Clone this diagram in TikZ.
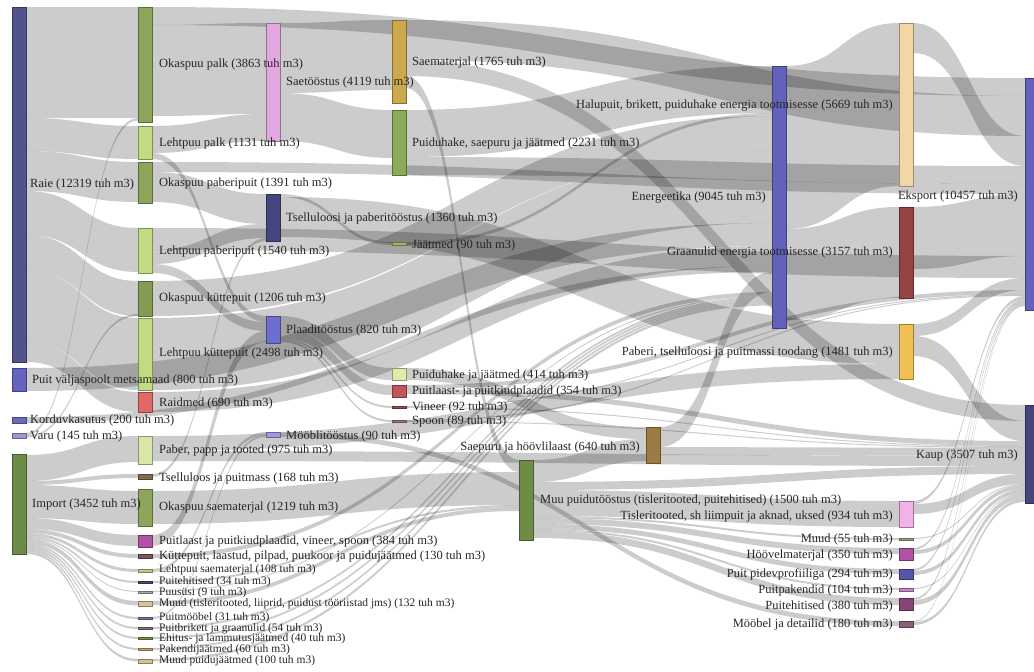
\documentclass[tikz,border=0pt]{standalone}
\usepackage{fontspec}
\setmainfont{Liberation Serif}
\usetikzlibrary{calc}
\pgfdeclarelayer{bg}
\pgfsetlayers{bg,main}
% colours
\definecolor{craie}{HTML}{52528F}
\definecolor{cvalja}{HTML}{6464C0}
\definecolor{ckordu}{HTML}{6A6AC0}
\definecolor{cvaru}{HTML}{9A9AD0}
\definecolor{cimport}{HTML}{6E8C46}
\definecolor{cok}{HTML}{8CA55A}
\definecolor{clh}{HTML}{C2DA82}
\definecolor{cokk}{HTML}{849C52}
\definecolor{craid}{HTML}{E06868}
\definecolor{cpaber}{HTML}{D8E6A8}
\definecolor{ctsell}{HTML}{7E6C4C}
\definecolor{cpl}{HTML}{B352A5}
\definecolor{ckutte}{HTML}{7C5656}
\definecolor{clhsae}{HTML}{B5CE80}
\definecolor{cpeh}{HTML}{604070}
\definecolor{cgray}{HTML}{A8A8A8}
\definecolor{cmuud}{HTML}{D4C494}
\definecolor{cmoob}{HTML}{8A6AA6}
\definecolor{cbrik}{HTML}{8A6A8A}
\definecolor{cehit}{HTML}{7F8F48}
\definecolor{cpak}{HTML}{C4A66A}
\definecolor{csaet}{HTML}{E4A8E0}
\definecolor{ctsp}{HTML}{46467E}
\definecolor{cplaad}{HTML}{6E6ED0}
\definecolor{cmoobl}{HTML}{9C9CD8}
\definecolor{csaemat}{HTML}{CCA94C}
\definecolor{cpuiduh}{HTML}{8DAA5A}
\definecolor{cjaat}{HTML}{A4B466}
\definecolor{cpjaat}{HTML}{E0EAAA}
\definecolor{cplaadid}{HTML}{C4545C}
\definecolor{cvineer}{HTML}{A04848}
\definecolor{cspoon}{HTML}{A87878}
\definecolor{csaepuru}{HTML}{9C7C42}
\definecolor{cenerg}{HTML}{6262BC}
\definecolor{chalu}{HTML}{F2D6A4}
\definecolor{cgraan}{HTML}{944444}
\definecolor{cpaberp}{HTML}{F0C152}
\definecolor{ctisl}{HTML}{F2B2E8}
\definecolor{cmuud55}{HTML}{A0A080}
\definecolor{cpidev}{HTML}{5656A8}
\definecolor{cpakendid}{HTML}{C888C8}
\definecolor{cpeh2}{HTML}{884478}
\definecolor{cmoobel}{HTML}{886078}
\tikzset{
  nd/.style={draw=#1!65!black, fill=#1, line width=0.5pt, inner sep=0pt, outer sep=0pt,
    minimum width=14pt, anchor=north west},
  lbl/.style={font=\fontsize{12.5}{14}\selectfont, inner sep=0pt, text=black!85},
  slbl/.style={lbl, font=\fontsize{11.5}{12}\selectfont},
  flow/.style={fill=black, fill opacity=0.2}
}
\newcommand\mknode[5]{\node[nd=#2, minimum height=#5pt] (#1) at (#3,#4) {};}
\newcommand\band[5]{%
  \fill[flow] let \p1=(#1.north east), \p2=(#3.north west) in
  (\x1,\y1-#2pt) .. controls ({0.5*\x1+0.5*\x2},\y1-#2pt) and ({0.5*\x1+0.5*\x2},\y2-#4pt) .. (\x2,\y2-#4pt)
  -- (\x2,\y2-#4pt-#5pt) .. controls ({0.5*\x1+0.5*\x2},\y2-#4pt-#5pt) and ({0.5*\x1+0.5*\x2},\y1-#2pt-#5pt) .. (\x1,\y1-#2pt-#5pt) -- cycle;}
\begin{document}
\begin{tikzpicture}[x=1pt,y=-1pt]
\useasboundingbox (0,0) rectangle (1034,672);
% ---------- nodes ----------
\mknode{raie}{craie}{12}{7}{355}
\mknode{valja}{cvalja}{12}{368}{23}
\mknode{kordu}{ckordu}{12}{417}{6}
\mknode{varu}{cvaru}{12}{433}{5}
\mknode{import}{cimport}{12}{454}{100}
\mknode{okpalk}{cok}{138}{7}{115}
\mknode{lhpalk}{clh}{138}{126}{33}
\mknode{okpab}{cok}{138}{162}{41}
\mknode{lhpab}{clh}{138}{228}{45}
\mknode{okkut}{cokk}{138}{281}{35}
\mknode{lhkut}{clh}{138}{318}{72}
\mknode{raidmed}{craid}{138}{392}{20}
\mknode{paber}{cpaber}{138}{436}{28}
\mknode{tsell}{ctsell}{138}{474}{5}
\mknode{oksae}{cok}{138}{489}{37}
\mknode{puitlaast}{cpl}{138}{535}{12}
\mknode{kutte}{ckutte}{138}{554}{4}
\mknode{lhsae}{clhsae}{138}{569}{3}
\mknode{puiteh}{cpeh}{138}{581}{2}
\mknode{puusysi}{cgray}{138}{591}{2}
\mknode{muud1}{cmuud}{138}{601}{5}
\mknode{puitmoob}{cmoob}{138}{617}{2.5}
\mknode{brikett}{cbrik}{138}{627}{2.5}
\mknode{ehitus}{cehit}{138}{637}{2.5}
\mknode{pakend}{cpak}{138}{648}{2.5}
\mknode{muudj}{cmuud}{138}{659}{4}
\mknode{saet}{csaet}{266}{23}{118}
\mknode{tsellp}{ctsp}{266}{194}{47}
\mknode{plaad}{cplaad}{266}{316}{27}
\mknode{moobl}{cmoobl}{266}{432}{5}
\mknode{saemat}{csaemat}{392}{20}{83}
\mknode{puiduh}{cpuiduh}{392}{110}{65}
\mknode{jaatmed}{cjaat}{392}{242}{3}
\mknode{puidjaat}{cpjaat}{392}{368}{12}
\mknode{plaadid}{cplaadid}{392}{385}{12}
\mknode{vineer}{cvineer}{392}{406}{2.5}
\mknode{spoon}{cspoon}{392}{420}{2.5}
\mknode{muut}{cimport}{519}{460}{80}
\mknode{saepuru}{csaepuru}{646}{427}{36}
\mknode{energ}{cenerg}{772}{66}{262}
\mknode{halu}{chalu}{899}{23}{163}
\mknode{graan}{cgraan}{899}{207}{91}
\mknode{paberp}{cpaberp}{899}{324}{55}
\mknode{tisl}{ctisl}{899}{501}{26}
\mknode{muud55}{cmuud55}{899}{538}{2.5}
\mknode{hoov}{cpl}{899}{548}{12}
\mknode{pidev}{cpidev}{899}{569}{10}
\mknode{pakendid}{cpakendid}{899}{588}{3}
\mknode{puiteh2}{cpeh2}{899}{598}{12}
\mknode{moobel}{cmoobel}{899}{621}{6}
\mknode{eksport}{cenerg}{1025}{78}{232}
\mknode{kaup}{ctsp}{1025}{405}{98}
% ---------- flows ----------
\begin{pgfonlayer}{bg}
\fill[white] (0,0) rectangle (1034,672);
\band{raie}{0}{okpalk}{0}{111}
\band{raie}{111}{lhpalk}{0}{33}
\band{raie}{144}{okpab}{0}{40}
\band{raie}{184}{lhpab}{0}{44}
\band{raie}{228}{okkut}{0}{35}
\band{raie}{263}{lhkut}{0}{72}
\band{raie}{335}{raidmed}{0}{20}
\band{varu}{0}{okpalk}{111}{2.5}
\band{varu}{2.5}{okkut}{33}{2}
\band{kordu}{0}{energ}{200}{6}
\band{valja}{0}{energ}{157}{23}
\band{import}{1}{paber}{0}{26}
\band{import}{27}{tsell}{0}{4}
\band{import}{31}{oksae}{2}{33}
\band{import}{64}{puitlaast}{0}{11}
\band{import}{75}{kutte}{0}{4}
\band{import}{79}{lhsae}{0}{3}
\band{import}{82}{puiteh}{0}{2}
\band{import}{84}{puusysi}{0}{1}
\band{import}{85}{muud1}{0}{4.5}
\band{import}{89.5}{puitmoob}{0}{2}
\band{import}{91.5}{brikett}{0}{2}
\band{import}{93.5}{ehitus}{0}{2}
\band{import}{95.5}{pakend}{0}{2}
\band{import}{97.5}{muudj}{0}{2.5}
\band{okpalk}{0}{eksport}{0}{18}
\band{okpalk}{18}{saet}{0}{91}
\band{lhpalk}{0}{saet}{91}{27}
\band{lhpalk}{27}{plaad}{0}{6}
\band{okpab}{0}{eksport}{106}{10}
\band{okpab}{10}{tsellp}{0}{30}
\band{lhpab}{0}{eksport}{178}{22}
\band{lhpab}{22}{tsellp}{30}{14}
\band{lhpab}{36}{plaad}{6}{9}
\band{okkut}{0}{energ}{50}{35}
\band{lhkut}{0}{energ}{85}{72}
\band{raidmed}{0}{energ}{180}{20}
\band{paber}{0}{paberp}{40}{15}
\band{paber}{15}{kaup}{51}{10}
\band{tsell}{0}{tsellp}{44}{3}
\band{oksae}{2}{muut}{12}{33}
\band{puitlaast}{0}{plaad}{15}{11}
\band{kutte}{0}{energ}{226}{4}
\band{lhsae}{0}{moobl}{0}{3}
\band{puiteh}{0}{muut}{45}{2}
\band{puusysi}{0}{energ}{230}{1}
\band{muud1}{0}{muut}{47}{4}
\band{puitmoob}{0}{moobl}{3}{2}
\band{brikett}{0}{energ}{231}{2}
\band{ehitus}{0}{energ}{233}{2}
\band{pakend}{0}{energ}{235}{2}
\band{muudj}{0}{energ}{237}{2.5}
\band{saet}{0}{saemat}{0}{70}
\band{saet}{70}{puiduh}{0}{48}
\band{tsellp}{0}{jaatmed}{0}{3}
\band{tsellp}{3}{paberp}{0}{40}
\band{plaad}{0}{puidjaat}{0}{12}
\band{plaad}{12}{plaadid}{0}{10}
\band{plaad}{22}{vineer}{0}{2}
\band{plaad}{24}{spoon}{0}{2}
\band{moobl}{0}{moobel}{0}{5}
\band{saemat}{0}{eksport}{18}{40}
\band{saemat}{40}{kaup}{0}{16}
\band{saemat}{56}{muut}{0}{12}
\band{puiduh}{0}{energ}{0}{47}
\band{puiduh}{47}{eksport}{88}{18}
\band{jaatmed}{0}{energ}{47}{3}
\band{puidjaat}{0}{saepuru}{0}{12}
\band{plaadid}{0}{eksport}{212}{4}
\band{plaadid}{4}{kaup}{36}{5}
\band{vineer}{0}{eksport}{216}{1}
\band{vineer}{1}{kaup}{41}{1}
\band{spoon}{0}{eksport}{217}{1}
\band{spoon}{1}{kaup}{42}{1}
\band{muut}{0}{saepuru}{12}{22}
\band{muut}{22}{kaup}{61}{8}
\band{muut}{30}{tisl}{0}{26}
\band{muut}{56}{muud55}{0}{2}
\band{muut}{58}{hoov}{0}{6}
\band{muut}{64}{pidev}{0}{5}
\band{muut}{69}{pakendid}{0}{2}
\band{muut}{71}{puiteh2}{0}{7}
\band{saepuru}{0}{energ}{206}{20}
\band{saepuru}{20}{kaup}{43}{8}
\band{energ}{0}{halu}{0}{163}
\band{energ}{163}{graan}{0}{91}
\band{halu}{0}{eksport}{58}{30}
\band{graan}{0}{eksport}{116}{62}
\band{paberp}{0}{eksport}{200}{12}
\band{paberp}{12}{kaup}{16}{20}
\band{tisl}{0}{eksport}{218}{3}
\band{tisl}{3}{kaup}{69}{10}
\band{muud55}{0}{kaup}{79}{1}
\band{hoov}{0}{eksport}{221}{2}
\band{hoov}{2}{kaup}{80}{4}
\band{pidev}{0}{eksport}{223}{2}
\band{pidev}{2}{kaup}{84}{4}
\band{pakendid}{0}{kaup}{88}{1}
\band{puiteh2}{0}{eksport}{225}{2}
\band{puiteh2}{2}{kaup}{89}{5}
\band{moobel}{0}{eksport}{227}{1}
\band{moobel}{1}{kaup}{94}{3}
\end{pgfonlayer}
% ---------- labels ----------
\node[lbl,anchor=west] (l-raie) at (30,184) {Raie (12319 tuh m3)};
\node[lbl,anchor=west] (l-valja) at (32,380) {Puit väljaspoolt metsamaad (800 tuh m3)};
\node[lbl,anchor=west] (l-kordu) at (30,420) {Korduvkasutus (200 tuh m3)};
\node[lbl,anchor=west] (l-varu) at (30,436) {Varu (145 tuh m3)};
\node[lbl,anchor=west] (l-import) at (32,504) {Import (3452 tuh m3)};
\node[lbl,anchor=west] (l-okpalk) at (159,64) {Okaspuu palk (3863 tuh m3)};
\node[lbl,anchor=west] (l-lhpalk) at (159,143) {Lehtpuu palk (1131 tuh m3)};
\node[lbl,anchor=west] (l-okpab) at (159,183) {Okaspuu paberipuit (1391 tuh m3)};
\node[lbl,anchor=west] (l-lhpab) at (159,251) {Lehtpuu paberipuit (1540 tuh m3)};
\node[lbl,anchor=west] (l-okkut) at (159,298) {Okaspuu küttepuit (1206 tuh m3)};
\node[lbl,anchor=west] (l-lhkut) at (159,353) {Lehtpuu küttepuit (2498 tuh m3)};
\node[lbl,anchor=west] (l-raidmed) at (159,403) {Raidmed (690 tuh m3)};
\node[lbl,anchor=west] (l-paber) at (159,450) {Paber, papp ja tooted (975 tuh m3)};
\node[lbl,anchor=west] (l-tsell) at (159,478) {Tselluloos ja puitmass (168 tuh m3)};
\node[lbl,anchor=west] (l-oksae) at (159,507) {Okaspuu saematerjal (1219 tuh m3)};
\node[lbl,anchor=west] (l-puitlaast) at (159,541) {Puitlaast ja puitkiudplaadid, vineer, spoon (384 tuh m3)};
\node[lbl,anchor=west] (l-kutte) at (159,556) {Küttepuit, laastud, pilpad, puukoor ja puidujäätmed (130 tuh m3)};
\node[slbl,anchor=west] (l-lhsae) at (159,570) {Lehtpuu saematerjal (108 tuh m3)};
\node[slbl,anchor=west] (l-puiteh) at (159,582) {Puitehitised (34 tuh m3)};
\node[slbl,anchor=west] (l-puusysi) at (159,593) {Puusüsi (9 tuh m3)};
\node[slbl,anchor=west] (l-muud1) at (159,604) {Muud (tisleritooted, liiprid, puidust tööriistad jms) (132 tuh m3)};
\node[slbl,anchor=west] (l-puitmoob) at (159,618) {Puitmööbel (31 tuh m3)};
\node[slbl,anchor=west] (l-brikett) at (159,628.5) {Puitbrikett ja graanulid (54 tuh m3)};
\node[slbl,anchor=west] (l-ehitus) at (159,639) {Ehitus- ja lammutusjäätmed (40 tuh m3)};
\node[slbl,anchor=west] (l-pakend) at (159,650) {Pakendijäätmed (60 tuh m3)};
\node[slbl,anchor=west] (l-muudj) at (159,661) {Muud puidujäätmed (100 tuh m3)};
\node[lbl,anchor=west] (l-saet) at (286,82) {Saetööstus (4119 tuh m3)};
\node[lbl,anchor=west] (l-tsellp) at (286,218) {Tselluloosi ja paberitööstus (1360 tuh m3)};
\node[lbl,anchor=west] (l-plaad) at (286,330) {Plaaditööstus (820 tuh m3)};
\node[lbl,anchor=west] (l-moobl) at (286,436) {Mööblitööstus (90 tuh m3)};
\node[lbl,anchor=west] (l-saemat) at (412,62) {Saematerjal (1765 tuh m3)};
\node[lbl,anchor=west] (l-puiduh) at (412,143) {Puiduhake, saepuru ja jäätmed (2231 tuh m3)};
\node[lbl,anchor=west] (l-jaatmed) at (412,245) {Jäätmed (90 tuh m3)};
\node[lbl,anchor=west] (l-puidjaat) at (412,375) {Puiduhake ja jäätmed (414 tuh m3)};
\node[lbl,anchor=west] (l-plaadid) at (412,391) {Puitlaast- ja puitkiudplaadid (354 tuh m3)};
\node[lbl,anchor=west] (l-vineer) at (412,407) {Vineer (92 tuh m3)};
\node[lbl,anchor=west] (l-spoon) at (412,421) {Spoon (89 tuh m3)};
\node[lbl,anchor=east] (l-saepuru) at (640,447) {Saepuru ja höövlilaast (640 tuh m3)};
\node[lbl,anchor=west] (l-muut) at (540,500) {Muu puidutööstus (tisleritooted, puitehitised) (1500 tuh m3)};
\node[lbl,anchor=east] (l-energ) at (766,198) {Energeetika (9045 tuh m3)};
\node[lbl,anchor=east] (l-halu) at (893,106) {Halupuit, brikett, puiduhake energia tootmisesse (5669 tuh m3)};
\node[lbl,anchor=east] (l-graan) at (893,253) {Graanulid energia tootmisesse (3157 tuh m3)};
\node[lbl,anchor=east] (l-paberp) at (893,353) {Paberi, tselluloosi ja puitmassi toodang (1481 tuh m3)};
\node[lbl,anchor=east] (l-tisl) at (893,516) {Tisleritooted, sh liimpuit ja aknad, uksed (934 tuh m3)};
\node[lbl,anchor=east] (l-muud55) at (893,539) {Muud (55 tuh m3)};
\node[lbl,anchor=east] (l-hoov) at (893,555) {Höövelmaterjal (350 tuh m3)};
\node[lbl,anchor=east] (l-pidev) at (893,574) {Puit pidevprofiiliga (294 tuh m3)};
\node[lbl,anchor=east] (l-pakendid) at (893,590) {Puitpakendid (104 tuh m3)};
\node[lbl,anchor=east] (l-puiteh2) at (893,606) {Puitehitised (380 tuh m3)};
\node[lbl,anchor=east] (l-moobel) at (893,624) {Mööbel ja detailid (180 tuh m3)};
\node[lbl,anchor=east] (l-eksport) at (1018,196) {Eksport (10457 tuh m3)};
\node[lbl,anchor=east] (l-kaup) at (1018,455) {Kaup (3507 tuh m3)};
\end{tikzpicture}
\end{document}
